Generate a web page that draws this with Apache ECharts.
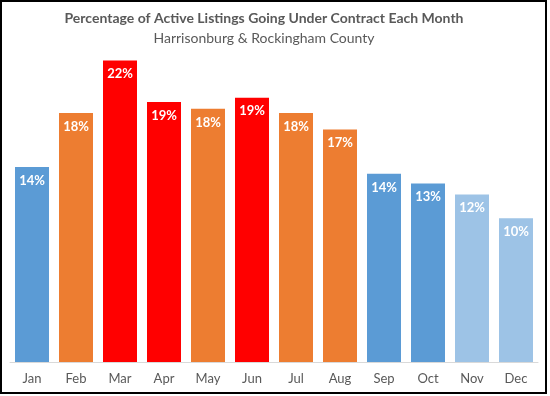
<!DOCTYPE html>
<html>
<head>
<meta charset="utf-8">
<script src="https://cdn.jsdelivr.net/npm/echarts@6/dist/echarts.min.js"></script>
<style>
html,body{margin:0;padding:0;background:#fff;}
#c{width:550px;height:396px;}
</style>
</head>
<body>
<div id="c"></div>
<script>
var categories = ['Jan','Feb','Mar','Apr','May','Jun','Jul','Aug','Sep','Oct','Nov','Dec'];
var values = [14.1, 18.0, 21.8, 18.8, 18.3, 19.1, 18.0, 16.8, 13.6, 12.9, 12.1, 10.4];
var labels = ['14%','18%','22%','19%','18%','19%','18%','17%','14%','13%','12%','10%'];
var barColors = ['#5B9BD5','#ED7D31','#FF0000','#FF0000','#ED7D31','#FF0000','#ED7D31','#ED7D31','#5B9BD5','#5B9BD5','#9DC3E6','#9DC3E6'];

var FONT = 'Lato, "Open Sans", sans-serif';
var chart = echarts.init(document.getElementById('c'), null, {renderer:'canvas'});
chart.setOption({
  animation: false,
  title: [{
    text: 'Percentage of Active Listings Going Under Contract Each Month',
    left: 259, top: 6, textAlign: 'center',
    textStyle: {fontFamily: FONT, fontSize: 14, fontWeight: 'bold', color: '#595959'}
  },{
    text: 'Harrisonburg & Rockingham County',
    left: 259, top: 26, textAlign: 'center',
    textStyle: {fontFamily: FONT, fontSize: 14, fontWeight: 'normal', color: '#595959'}
  }],
  grid: {left: 10, right: 12, top: 30, bottom: 34, containLabel: false},
  xAxis: {
    type: 'category', data: categories,
    axisLine: {lineStyle: {color: '#D9D9D9', width: 1}},
    axisTick: {show: false},
    axisLabel: {fontFamily: FONT, fontSize: 13, color: '#595959', margin: 10}
  },
  yAxis: {
    type: 'value', min: 0, max: 24, show: false,
    splitLine: {show: false}
  },
  series: [{
    type: 'bar',
    barWidth: 34,
    data: values.map(function(v, i){ return {value: v, itemStyle: {color: barColors[i]}}; }),
    label: {
      show: true, position: 'insideTop', distance: 7,
      fontFamily: FONT, fontSize: 13, fontWeight: 'bold', color: '#fff',
      formatter: function(p){ return labels[p.dataIndex]; }
    }
  }],
  graphic: [{
    type: 'rect', silent: true,
    shape: {x: 1, y: 1, width: 545, height: 392},
    style: {fill: 'none', stroke: '#000', lineWidth: 2}
  }]
});
</script>
</body>
</html>
